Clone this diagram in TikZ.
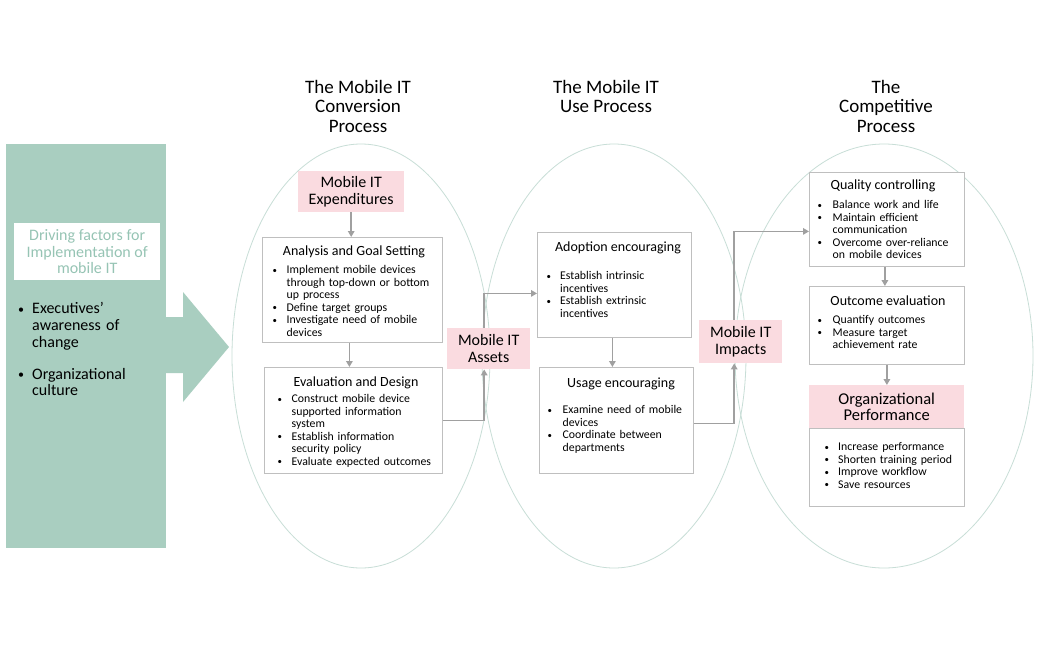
\documentclass[tikz,border=0pt]{standalone}
\usepackage{fontspec}
\setmainfont{Carlito}
\usetikzlibrary{arrows.meta}
\definecolor{greenc}{RGB}{169,206,192}
\definecolor{greentxt}{RGB}{150,196,180}
\definecolor{pinkc}{RGB}{250,219,224}
\definecolor{boxgray}{RGB}{191,191,191}
\definecolor{arrgray}{RGB}{160,160,160}
\definecolor{ellc}{RGB}{200,222,215}
\newcommand\bulletdot{\raisebox{0.1ex}{\scalebox{0.75}{•}}}
\newcommand\bitem[1]{\par\noindent\hangindent=#1\hangafter=1\makebox[#1][l]{\bulletdot}}
\tikzset{
  ell/.style={draw=ellc, line width=0.8pt},
  box/.style={draw=boxgray, line width=0.8pt, fill=white, inner sep=0pt, anchor=north west},
  pinkbox/.style={fill=pinkc, inner sep=0pt, anchor=north west, align=center,
    font=\fontsize{16}{17}\selectfont},
  sectitle/.style={align=center, font=\fontsize{19}{19.5}\selectfont},
  boxtitle/.style={inner sep=0pt, font=\fontsize{14}{15}\selectfont},
  blist/.style={inner sep=0pt, anchor=north west, align=left, text width=175pt,
    font=\fontsize{11.8}{12.5}\selectfont},
  conn/.style={draw=arrgray, line width=1.7pt, -{Triangle[length=6pt,width=6.5pt]}},
}
\begin{document}
\begin{tikzpicture}[x=1pt,y=-1pt]
\useasboundingbox (0,0) rectangle (1041,654);
\fill[white] (0,0) rectangle (1041,654);

% ellipses
\draw[ell] (361,356) ellipse [x radius=129, y radius=212];
\draw[ell] (614,356) ellipse [x radius=132, y radius=212];
\draw[ell] (884,356) ellipse [x radius=149, y radius=212];

% left driving factors
\node[fill=greenc, inner sep=0pt, anchor=north west, minimum width=160pt, minimum height=404pt] (drv) at (6,144) {};
\fill[greenc] (165,317) -- (183,317) -- (183,292) -- (229,347) -- (183,402) -- (183,373) -- (165,373) -- cycle;
\node[fill=white, inner sep=0pt, anchor=north west, minimum width=146pt, minimum height=57pt] (dfbox) at (14,223) {};
\node[align=center, text=greentxt, font=\fontsize{16}{16.5}\selectfont] (dftxt) at (dfbox.center) {Driving factors for\\Implementation of\\mobile IT};
\node[inner sep=0pt, anchor=north west, align=left, text width=140pt, font=\fontsize{16}{16.6}\selectfont] (drvlist) at (18,297)
 {\bitem{14pt}Executives’\newline awareness of\newline change\par\vspace{15.5pt}\bitem{14pt}Organizational\newline culture\par};

% section titles
\node[sectitle] (t1) at (358,106) {The Mobile IT\\Conversion\\Process};
\node[sectitle] (t2) at (606,96.5) {The Mobile IT\\Use Process};
\node[sectitle] (t3) at (886,106) {The\\Competitive\\Process};

% conversion process
\node[pinkbox, minimum width=106pt, minimum height=41pt] (exp) at (298,171) {Mobile IT\\Expenditures};
\node[box, minimum width=180pt, minimum height=105pt] (ags) at (262,237) {};
\node[boxtitle] (agst) at (354,252) {Analysis and Goal Setting};
\node[blist] (agsl) at (272.5,261) {\bitem{14pt}Implement mobile devices\newline through top-down or bottom\newline up process\bitem{14pt}Define target groups\bitem{14pt}Investigate need of mobile\newline devices\par};
\node[box, minimum width=178pt, minimum height=106pt] (evd) at (264,367) {};
\node[boxtitle] (evdt) at (356,383) {Evaluation and Design};
\node[blist] (evdl) at (277.5,390) {\bitem{14pt}Construct mobile device\newline supported information\newline system\bitem{14pt}Establish information\newline security policy\bitem{14pt}Evaluate expected outcomes\par};
\node[pinkbox, minimum width=83pt, minimum height=41pt] (assets) at (447,328) {Mobile IT\\Assets};

% use process
\node[box, minimum width=154pt, minimum height=105pt] (adopt) at (537,232) {};
\node[boxtitle] (adoptt) at (618,248) {Adoption encouraging};
\node[blist] (adoptl) at (546.5,267) {\bitem{13.5pt}Establish intrinsic\newline incentives\bitem{13.5pt}Establish extrinsic\newline incentives\par};
\node[box, minimum width=154pt, minimum height=106pt] (usage) at (539,367) {};
\node[boxtitle] (usaget) at (621,384) {Usage encouraging};
\node[blist] (usagel) at (547.5,401) {\bitem{15pt}Examine need of mobile\newline devices\bitem{15pt}Coordinate between\newline departments\par};
\node[pinkbox, minimum width=83pt, minimum height=43pt] (impacts) at (699,320) {Mobile IT\\Impacts};

% competitive process
\node[box, minimum width=155pt, minimum height=94pt] (qual) at (809,172) {};
\node[boxtitle] (qualt) at (883,186) {Quality controlling};
\node[blist] (quall) at (817.5,196) {\bitem{15pt}Balance work and life\bitem{15pt}Maintain efficient\newline communication\bitem{15pt}Overcome over-reliance\newline on mobile devices\par};
\node[box, minimum width=155pt, minimum height=78pt] (outc) at (809,286) {};
\node[boxtitle] (outct) at (888,300.5) {Outcome evaluation};
\node[blist] (outcl) at (817.5,311) {\bitem{15pt}Quantify outcomes\bitem{15pt}Measure target\newline achievement rate\par};
\node[box, minimum width=155pt, minimum height=78pt] (orgw) at (809,428) {};
\node[pinkbox, minimum width=155pt, minimum height=43pt, font=\fontsize{16.5}{15.5}\selectfont] (orgp) at (809,385) {Organizational\\Performance};
\node[blist] (orgl) at (824.5,438) {\bitem{13.5pt}Increase performance\bitem{13.5pt}Shorten training period\bitem{13.5pt}Improve workflow\bitem{13.5pt}Save resources\par};

% connectors
\draw[conn] (exp.south) -- (exp.south |- ags.north);
\draw[conn] ([xshift=-3pt]ags.south) -- ([xshift=-3pt]ags.south |- evd.north);
\draw[conn] (evd.east) -| ([xshift=-4.5pt]assets.south);
\draw[conn] ([xshift=-4.5pt]assets.north) |- ([yshift=-8.5pt]adopt.west);
\draw[conn] ([xshift=-2pt]adopt.south) -- ([xshift=-2pt]adopt.south |- usage.north);
\draw[conn] ([yshift=-3pt]usage.east) -| ([xshift=-6.5pt]impacts.south);
\draw[conn] ([xshift=-6.5pt]impacts.north) |- ([yshift=-12pt]qual.west);
\draw[conn] ([xshift=-2pt]qual.south) -- ([xshift=-2pt]qual.south |- outc.north);
\draw[conn] (outc.south) -- (outc.south |- orgp.north);
\end{tikzpicture}
\end{document}
